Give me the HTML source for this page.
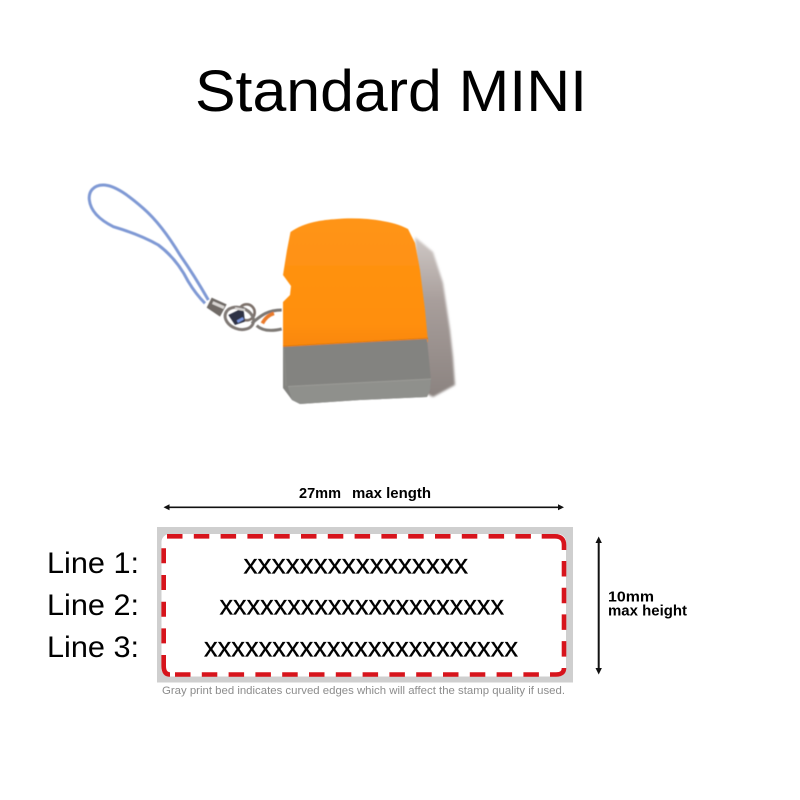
<!DOCTYPE html>
<html><head><meta charset="utf-8"><style>html,body{margin:0;padding:0;background:#fff}svg{display:block}text{font-family:"Liberation Sans",sans-serif;fill:#000}</style></head>
<body>
<svg width="800" height="800" viewBox="0 0 800 800" xmlns="http://www.w3.org/2000/svg">
<defs>
<filter id="b" x="-20%" y="-20%" width="140%" height="140%"><feGaussianBlur stdDeviation="1.200"/></filter>
<filter id="s" x="-10%" y="-10%" width="120%" height="120%"><feGaussianBlur stdDeviation=".4"/></filter>
<linearGradient id="sh" x1="0" y1="0" x2="0" y2="1"><stop offset="0" stop-color="#cfc8c5"/><stop offset=".4" stop-color="#a89e9b"/><stop offset="1" stop-color="#8b8380"/></linearGradient>
<linearGradient id="or" x1="0" y1="0" x2="0" y2="1"><stop offset="0" stop-color="#ff9414"/><stop offset=".8" stop-color="#ff8f0f"/><stop offset="1" stop-color="#f98606"/></linearGradient>
</defs>
<text x="195" y="111" font-size="58" textLength="392" lengthAdjust="spacingAndGlyphs">Standard MINI</text>
<path d="M415 237 L433 252 L443 283 L450 330 L453 357 L455 385 L433 397 L420 390Z" fill="url(#sh)" filter="url(#b)"/>
<g filter="url(#s)">
<g transform="translate(80 175) scale(.33333)" fill="none">
<path d="M385 375 C365 340 335 290 300 240 C270 190 230 135 190 100 C150 65 105 30 70 30 C40 30 25 50 28 75 C32 110 60 135 100 155 C150 170 200 190 235 210 C275 240 305 280 325 320 C340 345 355 365 375 385" stroke="#7f99d4" stroke-width="9"/>
<path d="M395 368 L440 388 L420 425 L380 398Z" fill="#6f6a66"/>
<path d="M398 383 L432 398" stroke="#d9d6d3" stroke-width="9"/>
<circle cx="500" cy="412" r="24" stroke="#7d716a" stroke-width="8"/>
<ellipse cx="478" cy="430" rx="44" ry="32" transform="rotate(20 478 430)" stroke="#7f7874" stroke-width="9"/>
<path d="M445 420 L490 398 L495 440 L465 450Z" fill="#2f3344"/>
<path d="M465 400 L495 405" stroke="#d8d5d3" stroke-width="7"/>
<path d="M472 440 L490 430" stroke="#7c98e2" stroke-width="8"/>
<path d="M515 445 C535 430 555 405 605 405" stroke="#7c7773" stroke-width="9"/>
<path d="M530 452 C550 470 580 468 605 462" stroke="#7f7a76" stroke-width="9"/>
<path d="M547 445 C555 430 565 420 582 415" stroke="#ea7a2c" stroke-width="11"/>
</g>
<path d="M290.500 232 C305 222 322 220 337 219 C360 217 392 220 408 229 L415 243 L420 270 L425 310 L428 342 L283 350 L283 302 L290 295 L291 286 L283 275 L287 250Z" fill="url(#or)"/>
<path d="M283 346.500 L428 338.500" stroke="#e07c04" stroke-width="1.500"/>
<path d="M283 347 L427 339 L431 380 L430 390 L427 397 L360 400 L300 404 L292 400 L283 388Z" fill="#838380"/>
<path d="M288 387 L431 379 L430 390 L427 397 L360 400 L300 404 L292 400Z" fill="#8f908c"/>
<path d="M288 386.500 L431 379" stroke="#9b9b97" stroke-width="1"/>
<path d="M284 348 L286 386" stroke="#8a8a86" stroke-width="1.500"/>
</g>
<text x="299" y="498" font-size="14.500" font-weight="bold" textLength="42" lengthAdjust="spacingAndGlyphs">27mm</text>
<text x="352" y="498" font-size="14.500" font-weight="bold" textLength="79" lengthAdjust="spacingAndGlyphs">max length</text>
<path d="M168 507.300H560" stroke="#111" stroke-width="1.700"/>
<path d="M163.500 507.300l6-3v6zM564 507.300l-6-3v6z" fill="#111"/>
<rect x="157" y="527" width="416" height="155.500" fill="#cfcfcf"/>
<rect x="161.500" y="534" width="404.500" height="142.500" rx="8" fill="#fff"/>
<g fill="none" stroke="#d7141c" stroke-width="4.600">
<path d="M167 536.300H531" stroke-dasharray="15.500 11.300"/>
<path d="M541.700 536.300H555Q564 536.300 564 545V550"/>
<path d="M564 561V658" stroke-dasharray="15.500 11.200"/>
<path d="M550 674.500H556Q564 674.500 564 668"/>
<path d="M175 674.500H542" stroke-dasharray="15.500 11.300"/>
<path d="M163.700 548.300V645" stroke-dasharray="15 11.700"/>
<path d="M163.700 655V666Q163.700 674.500 170 674.500"/>
</g>
<g font-size="30">
<text x="47" y="573" textLength="92" lengthAdjust="spacingAndGlyphs">Line 1:</text>
<text x="47" y="615" textLength="92" lengthAdjust="spacingAndGlyphs">Line 2:</text>
<text x="47" y="657" textLength="92" lengthAdjust="spacingAndGlyphs">Line 3:</text>
</g>
<g font-size="28" stroke="#000" stroke-width=".3">
<text x="243.500" y="573.300" textLength="224.500" lengthAdjust="spacingAndGlyphs">xxxxxxxxxxxxxxxx</text>
<text x="219.500" y="614.500" textLength="284.500" lengthAdjust="spacingAndGlyphs">xxxxxxxxxxxxxxxxxxxxx</text>
<text x="204" y="656.600" textLength="314" lengthAdjust="spacingAndGlyphs">xxxxxxxxxxxxxxxxxxxxxxx</text>
</g>
<text x="162" y="694" font-size="11" style="fill:#8c8c8c" textLength="403" lengthAdjust="spacingAndGlyphs">Gray print bed indicates curved edges which will affect the stamp quality if used.</text>
<path d="M598.700 541V670" stroke="#111" stroke-width="2"/>
<path d="M598.700 536.500l-3.200 6.500h6.400zM598.700 674.500l-3.200-6.500h6.400z" fill="#111"/>
<text x="608" y="601.500" font-size="14.500" font-weight="bold" textLength="46" lengthAdjust="spacingAndGlyphs">10mm</text>
<text x="608" y="615.500" font-size="14.500" font-weight="bold" textLength="79" lengthAdjust="spacingAndGlyphs">max height</text>
</svg>
</body></html>
